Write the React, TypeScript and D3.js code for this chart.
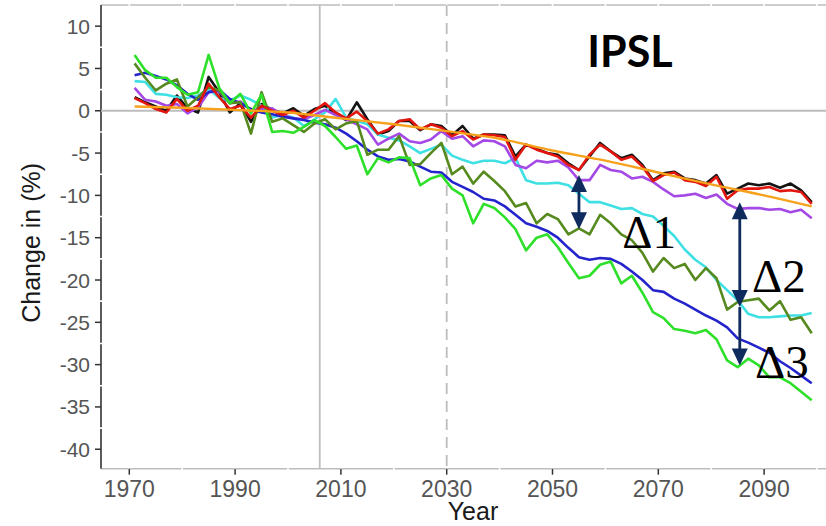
import * as d3 from "d3";

const W = 826;
const H = 526;
const M = { left: 101, right: 826, top: 5, bottom: 468.7 };

// biennial samples (odd years 1971..2099)
const YEARS = d3.range(1971, 2100, 2);

const BLACK = [
  1.6, 1.0, 0.5, 0.0, 1.8,
  0.3, -0.2, 4.0, 2.2, -0.2,
  0.9, -1.3, 0.8, 0.1, -0.3,
  0.3, -0.6, 0.2, 0.6, -0.4,
  -1.1, 1.0, -1.0, -2.8, -2.4,
  -1.2, -1.2, -2.3, -1.6, -1.8,
  -2.9, -1.8, -3.3, -2.8, -2.8,
  -2.9, -5.4, -4.0, -4.5, -5.0,
  -5.2, -6.2, -7.0, -5.4, -3.8,
  -4.8, -5.6, -5.2, -6.4, -8.2,
  -7.4, -7.2, -8.0, -8.2, -8.6,
  -7.6, -9.8, -9.2, -8.6, -8.8,
  -8.6, -9.1, -8.6, -9.4, -10.8,
];

const RED = [
  1.5, 0.9, 0.2, -0.2, 1.4,
  0.0, 0.6, 3.2, 1.6, 0.2,
  0.6, -0.8, 0.6, 0.0, -0.5,
  0.0, -0.8, 0.0, 0.9, -0.2,
  -0.9, -0.1, -1.2, -2.7, -2.2,
  -1.2, -1.0, -2.2, -1.6, -2.0,
  -3.0, -2.4, -3.4, -2.8, -2.9,
  -3.1, -5.8, -4.0, -4.6, -5.0,
  -5.4, -6.4, -7.0, -5.2, -4.0,
  -4.8, -5.8, -5.4, -6.6, -8.3,
  -7.6, -7.3, -8.2, -8.4, -8.9,
  -7.8, -10.4, -9.4, -9.2, -9.2,
  -9.0, -9.5, -9.4, -9.6, -11.0,
];

const PURPLE = [
  2.7, 1.3, 1.1, 0.6, 0.8,
  -0.3, 0.4, 2.2, 2.3, 0.9,
  1.1, 0.1, 0.2, 0.3, -0.5,
  -0.9, -1.0, -0.5, 0.1, -0.5,
  -1.0, -1.6, -2.2, -4.0, -3.3,
  -2.7, -3.6, -3.8, -3.4, -2.4,
  -3.3, -3.0, -4.2, -3.5, -3.6,
  -4.2, -6.4, -6.8, -5.9, -6.1,
  -5.9, -6.7, -8.2, -8.2, -6.4,
  -7.0, -7.2, -8.0, -7.8, -8.4,
  -9.3, -10.1, -10.0, -9.8, -10.3,
  -9.9, -11.0, -11.6, -11.5, -11.5,
  -11.7, -11.6, -12.0, -11.7, -12.7,
];

const CYAN = [
  3.5, 3.4, 2.0, 1.9, 1.6,
  1.5, 1.8, 2.6, 1.5, 1.2,
  1.8, 1.3, 0.6, -0.8, -0.5,
  -0.8, -1.8, -1.0, -0.2, 1.4,
  -0.8, -1.2, -1.6, -2.8, -3.2,
  -3.5, -4.2, -5.0, -4.5, -4.0,
  -5.3, -5.8, -6.2, -5.9, -5.9,
  -6.2, -5.6, -8.2, -8.6, -8.6,
  -8.5, -8.8, -9.8, -10.8, -10.8,
  -11.2, -11.6, -11.5, -12.2, -12.5,
  -13.6, -14.8, -16.4, -17.6, -18.5,
  -20.0, -21.2, -22.4, -24.0, -24.4,
  -24.4, -24.3, -24.2, -24.2, -23.9,
];

const OLIVE = [
  5.6, 3.9, 2.4, 3.2, 3.7,
  0.5, 1.6, 2.8, 2.4, 0.9,
  1.0, -2.7, 2.2, -1.3, -0.9,
  -1.7, -2.5, -1.5, -1.0, -2.2,
  -1.5, -1.2, -5.2, -4.6, -4.6,
  -3.0, -6.4, -6.3, -5.0, -3.8,
  -7.5, -6.6, -8.6, -7.2, -8.3,
  -9.5, -11.3, -10.9, -13.3, -12.2,
  -12.8, -14.6, -13.9, -14.6, -12.3,
  -13.3, -14.6, -15.3, -16.8, -19.0,
  -17.4, -18.6, -18.1, -20.0, -18.6,
  -19.8, -23.5, -22.6, -22.4, -22.2,
  -23.6, -22.5, -24.7, -24.4, -26.3,
];

const BLUE = [
  4.2, 4.5, 4.1, 3.7, 3.0,
  2.0, 1.3, 2.2, 2.5, 1.4,
  0.9, 0.2, -0.2, -0.4, -0.7,
  -0.9, -1.1, -1.4, -1.6, -2.0,
  -2.7, -3.6, -4.6, -5.4, -5.8,
  -5.7, -6.0, -6.6, -7.2, -7.3,
  -8.4, -9.0, -9.6, -10.4, -10.6,
  -11.3, -12.3, -13.3, -13.7, -14.2,
  -15.0, -16.2, -17.3, -17.6, -17.4,
  -17.5, -18.1, -19.0, -20.0, -21.2,
  -21.4, -22.2, -22.8, -23.5, -24.2,
  -24.8, -25.6, -26.9, -27.4, -28.0,
  -28.6, -29.6, -30.4, -31.3, -32.2,
];

const GREEN = [
  6.6, 4.8, 3.9, 3.9, 2.8,
  1.9, 2.2, 6.6, 2.7, 0.9,
  2.0, -0.3, 1.9, -2.5, -2.4,
  -2.6, -1.9, -1.1, -1.8, -3.1,
  -4.5, -4.1, -7.5, -5.6, -6.1,
  -5.5, -5.6, -8.8, -8.0, -7.6,
  -9.2, -10.0, -13.3, -11.0, -11.5,
  -12.6, -14.0, -16.5, -15.0, -14.6,
  -16.1, -18.0, -19.8, -19.5, -18.2,
  -17.8, -20.4, -19.5, -21.5, -23.8,
  -24.5, -25.8, -26.0, -26.3, -25.9,
  -27.0, -29.5, -30.3, -29.3, -30.1,
  -31.5, -31.5, -32.2, -33.2, -34.2,
];

// smooth trend line
const TREND_YEARS = [1971, 1980, 1990, 2000, 2010, 2020, 2030, 2040, 2050, 2060, 2070, 2080, 2090, 2099];
const TREND = [0.5, 0.35, 0.1, -0.2, -0.9, -1.6, -2.4, -3.3, -4.7, -5.9, -7.3, -8.7, -10.0, -11.3];

const Y_TICKS = [10, 5, 0, -5, -10, -15, -20, -25, -30, -35, -40];
const X_TICKS = [1970, 1990, 2010, 2030, 2050, 2070, 2090];

const SERIES = [
  { name: "black", values: BLACK, color: "#141414" },
  { name: "cyan", values: CYAN, color: "#3fe0e4" },
  { name: "purple", values: PURPLE, color: "#a448e6" },
  { name: "blue", values: BLUE, color: "#2424cc" },
  { name: "olive", values: OLIVE, color: "#568a1f" },
  { name: "green", values: GREEN, color: "#2ee02a" },
  { name: "red", values: RED, color: "#e3150f" },
];

// annotation arrows (year, from value, to value, heads)
const ARROWS = [
  { year: 2055, from: -7.6, to: -14.0, headFrom: true, headTo: true },
  { year: 2085.4, from: -10.8, to: -23.2, headFrom: true, headTo: true },
  { year: 2085.4, from: -23.2, to: -30.1, headFrom: false, headTo: true },
];
const DELTAS = [
  { label: "Δ1", year: 2063.2, value: -16.2 },
  { label: "Δ2", year: 2087.7, value: -21.4 },
  { label: "Δ3", year: 2088.3, value: -31.6 },
];

const SANS = "'Liberation Sans', Arial, Helvetica, sans-serif";
const NAVY = "#0f2a5c";

export default function App() {
  const x = d3.scaleLinear().domain([1964.65, 2101.7]).range([M.left, M.right]);
  const y = d3.scaleLinear().domain([-42.3, 12.5]).range([M.bottom, M.top]);

  const path = d3
    .line<number>()
    .x((_, i) => x(YEARS[i]))
    .y((v) => y(v));

  const trend = d3
    .line<number>()
    .x((_, i) => x(TREND_YEARS[i]))
    .y((v) => y(v))
    .curve(d3.curveMonotoneX);

  const gridX = d3.range(1970, 2101, 10);
  const gridY = d3.range(-37.5, 12.5, 5);

  const head = (cx: number, tip: number, dir: 1 | -1) => {
    // dir -1: pointing up, 1: pointing down
    const hw = 8;
    const hh = 17;
    return `M${cx},${tip} L${cx - hw},${tip - dir * hh} L${cx + hw},${tip - dir * hh} Z`;
  };

  return (
    <svg
      width={W}
      height={H}
      style={{ position: "absolute", left: 0, top: 0, background: "#fff" }}
    >
      {/* frame */}
      <line x1={M.left} x2={M.right} y1={M.top} y2={M.top} stroke="#bdbdbd" strokeWidth={1.6} />
      <line x1={M.left} x2={M.right} y1={M.bottom} y2={M.bottom} stroke="#bdbdbd" strokeWidth={1.6} />
      <line x1={M.left} x2={M.left} y1={M.top} y2={M.bottom} stroke="#333" strokeWidth={1.6} />

      {/* white grid cuts through the frame */}
      {gridX.map((g) => (
        <line key={`gx${g}`} x1={x(g)} x2={x(g)} y1={M.top - 2} y2={M.bottom + 2} stroke="#fff" strokeWidth={1.6} />
      ))}
      {gridY.map((g) => (
        <line key={`gy${g}`} x1={M.left - 2} x2={M.right} y1={y(g)} y2={y(g)} stroke="#fff" strokeWidth={1.6} />
      ))}

      {/* y ticks */}
      {Y_TICKS.map((t) => (
        <g key={t}>
          <line x1={M.left - 6} x2={M.left} y1={y(t)} y2={y(t)} stroke="#333" strokeWidth={1.5} />
          <text
            x={M.left - 11}
            y={y(t)}
            dy="0.36em"
            textAnchor="end"
            fontFamily={SANS}
            fontSize={21}
            fill="#555"
          >
            {t}
          </text>
        </g>
      ))}

      {/* x ticks */}
      {X_TICKS.map((t) => (
        <g key={t}>
          <line x1={x(t)} x2={x(t)} y1={M.bottom} y2={M.bottom + 6} stroke="#333" strokeWidth={1.5} />
          <text x={x(t)} y={M.bottom + 28} textAnchor="middle" fontFamily={SANS} fontSize={23} fill="#555">
            {t}
          </text>
        </g>
      ))}

      <text x={473} y={520} textAnchor="middle" fontFamily={SANS} fontSize={25} fill="#1a1a1a">
        Year
      </text>
      <text
        transform={`translate(40,${(M.top + M.bottom) / 2 + 6}) rotate(-90)`}
        textAnchor="middle"
        fontFamily={SANS}
        fontSize={25}
        fill="#1a1a1a"
      >
        Change in (%)
      </text>

      {/* reference lines */}
      <line x1={M.left} x2={M.right} y1={y(0)} y2={y(0)} stroke="#bdbdbd" strokeWidth={1.8} />
      <line x1={x(2006)} x2={x(2006)} y1={M.top} y2={M.bottom} stroke="#bdbdbd" strokeWidth={1.8} />
      <line
        x1={x(2030)}
        x2={x(2030)}
        y1={M.top}
        y2={M.bottom}
        stroke="#bdbdbd"
        strokeWidth={1.8}
        strokeDasharray="11,7"
      />

      {/* series */}
      {SERIES.map((s) => (
        <path
          key={s.name}
          d={path(s.values) ?? undefined}
          fill="none"
          stroke={s.color}
          strokeWidth={2.6}
          strokeLinejoin="round"
        />
      ))}
      <path d={trend(TREND) ?? undefined} fill="none" stroke="#f6a21d" strokeWidth={2.4} />

      <text x={630} y={67} textAnchor="middle" fontFamily="Lato, 'Open Sans', sans-serif" fontWeight={700} fontSize={43} fill="#000">
        IPSL
      </text>

      {/* annotations */}
      {ARROWS.map((a, i) => {
        const cx = x(a.year);
        const y1 = y(a.from);
        const y2 = y(a.to);
        return (
          <g key={i}>
            <line
              x1={cx}
              x2={cx}
              y1={a.headFrom ? y1 + 10 : y1}
              y2={a.headTo ? y2 - 10 : y2}
              stroke={NAVY}
              strokeWidth={2.8}
            />
            {a.headFrom && <path d={head(cx, y1, -1)} fill={NAVY} />}
            {a.headTo && <path d={head(cx, y2, 1)} fill={NAVY} />}
          </g>
        );
      })}
      {DELTAS.map((d) => (
        <text
          key={d.label}
          x={x(d.year)}
          y={y(d.value)}
          fontFamily="'Liberation Serif', 'DejaVu Serif', serif"
          fontSize={47}
          fill="#000"
        >
          {d.label}
        </text>
      ))}
    </svg>
  );
}
